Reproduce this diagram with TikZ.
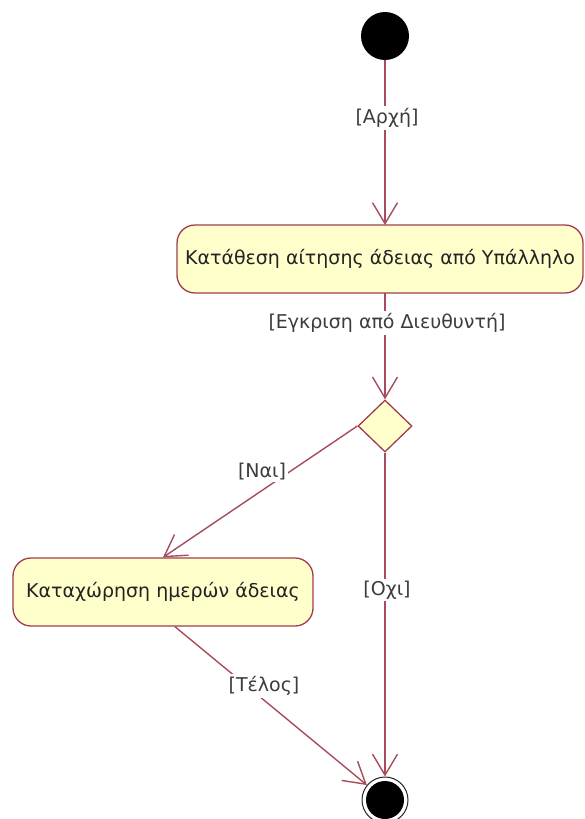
\documentclass[tikz,border=0pt]{standalone}
\usepackage{fontspec}
\setmainfont{DejaVu Sans}
\usetikzlibrary{arrows.meta,shapes.geometric}
\definecolor{flowline}{HTML}{A84C5C}
\definecolor{boxline}{HTML}{A03C4C}
\definecolor{boxfill}{HTML}{FFFFCC}
\definecolor{guardtext}{HTML}{3C3C3C}
\definecolor{acttext}{HTML}{222222}
\begin{document}
\begin{tikzpicture}[x=1pt,y=-1pt,
  activity/.style={draw=boxline,fill=boxfill,line width=1.3pt,rounded corners=18pt,
    minimum height=68pt,inner sep=0pt,text=acttext,font=\fontsize{19}{22}\selectfont},
  decision/.style={diamond,draw=boxline,fill=boxfill,line width=1.3pt,
    minimum width=54pt,minimum height=52pt,inner sep=0pt},
  flow/.style={draw=flowline,line width=1.4pt,
    -{Straight Barb[length=21pt,width=25pt,line width=1.4pt]}},
  guard/.style={fill=white,text=guardtext,inner sep=2pt,font=\fontsize{19}{22}\selectfont}]
\useasboundingbox (0,0) rectangle (584,819);

% initial and final states
\node[circle,fill=black,minimum size=48pt,inner sep=0pt] (start) at (385,36) {};
\node[circle,draw=black!85,line width=1pt,fill=white,minimum size=46pt,inner sep=0pt] (end) at (385,800) {};
\node[circle,fill=black,minimum size=38pt,inner sep=0pt] (endcore) at (end) {};

% activities and the decision
\node[activity,minimum width=406pt] (submit) at (380,259) {Κατάθεση αίτησης άδειας από Υπάλληλο};
\node[activity,minimum width=300pt] (record) at (163,592) {Καταχώρηση ημερών άδειας};
\node[decision] (approve) at (385,426) {};

% control flows
\draw[flow] (start) -- (385,225);
\draw[flow] (385,293) -- (approve.north);
\draw[flow] (approve.west) -- (record.north);
\draw[flow] (approve.south) -- (end.north);
\draw[flow] (record.-71) -- (end);

% guards
\node[guard] (gstart) at (387,118) {[Αρχή]};
\node[guard] (gapprove) at (387,323) {[Εγκριση από Διευθυντή]};
\node[guard] (gyes) at (262,472) {[Ναι]};
\node[guard] (gno) at (387,590) {[Οχι]};
\node[guard] (gend) at (264,686) {[Τέλος]};
\end{tikzpicture}
\end{document}
